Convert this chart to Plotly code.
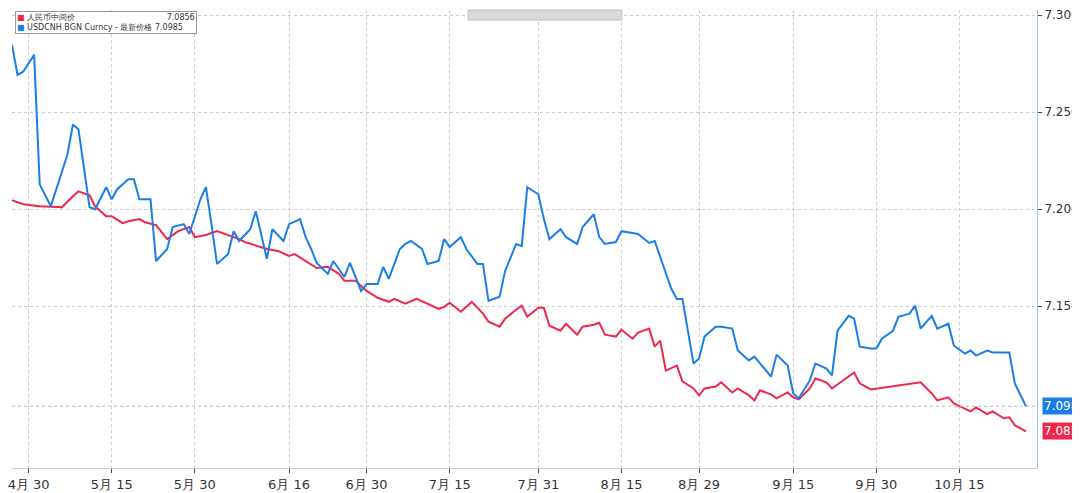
import datetime as dt
import plotly.graph_objects as go

START = dt.date(2025, 4, 27)

blue_days = [0, 1, 2, 4, 5, 7, 8, 10, 11, 12, 14, 15, 17, 18, 19, 21, 22, 23, 25, 26, 28, 29, 31, 32, 34, 35, 36, 37,
             39, 40, 41, 43, 44, 46, 47, 49, 50, 52, 53, 54, 55, 57, 58, 60, 61, 63, 64, 66, 67, 68, 70, 71, 72, 74,
             75, 77, 78, 79, 81, 82, 84, 85, 86, 88, 89, 91, 92, 93, 95, 96, 97, 99, 100, 102, 103, 105, 106, 107,
             109, 110, 112, 113, 115, 116, 117, 119, 120, 121, 123, 124, 125, 127, 128, 130, 131, 133, 134, 135,
             137, 138, 140, 141, 142, 144, 145, 147, 148, 149, 151, 152, 153, 155, 156, 157, 159, 160, 162, 163,
             164, 166, 167, 169, 170, 172, 173, 174, 176, 177, 179, 180, 181, 183]
blue_vals = [7.2846, 7.2692, 7.2708, 7.2795, 7.2128, 7.2015, 7.2103, 7.2282, 7.2436, 7.2410, 7.2010, 7.2000,
             7.2113, 7.2051, 7.2103, 7.2154, 7.2154, 7.2051, 7.2051, 7.1733, 7.1795, 7.1908, 7.1923, 7.1872,
             7.2051, 7.2113, 7.1923, 7.1718, 7.1769, 7.1887, 7.1836, 7.1897, 7.1990, 7.1744, 7.1897, 7.1836,
             7.1923, 7.1949, 7.1856, 7.1795, 7.1723, 7.1667, 7.1733, 7.1651, 7.1723, 7.1579, 7.1615, 7.1615,
             7.1703, 7.1641, 7.1795, 7.1821, 7.1836, 7.1795, 7.1718, 7.1733, 7.1846, 7.1805, 7.1856, 7.1795,
             7.1718, 7.1718, 7.1528, 7.1549, 7.1682, 7.1821, 7.1810, 7.2113, 7.2077, 7.1949, 7.1846, 7.1897,
             7.1856, 7.1821, 7.1908, 7.1974, 7.1856, 7.1821, 7.1831, 7.1887, 7.1877, 7.1872, 7.1826, 7.1836,
             7.1754, 7.1590, 7.1538, 7.1538, 7.1205, 7.1231, 7.1344, 7.1395, 7.1395, 7.1385, 7.1272, 7.1221,
             7.1241, 7.1205, 7.1138, 7.1251, 7.1195, 7.1051, 7.1026, 7.1118, 7.1205, 7.1179, 7.1144, 7.1374,
             7.1451, 7.1436, 7.1292, 7.1282, 7.1282, 7.1333, 7.1374, 7.1446, 7.1462, 7.1503, 7.1385, 7.1451,
             7.1385, 7.1410, 7.1297, 7.1256, 7.1272, 7.1246, 7.1272, 7.1262, 7.1262, 7.1262, 7.1103, 7.0985]

red_days = [0, 2, 5, 9, 11, 12, 14, 15, 17, 18, 20, 21, 23, 24, 26, 28, 30, 32, 33, 35, 37, 39, 41, 42, 44, 46,
            48, 50, 51, 53, 55, 57, 59, 60, 62, 64, 66, 68, 69, 71, 73, 75, 77, 78, 79, 81, 82, 83, 85, 86, 88,
            89, 91, 92, 93, 95, 96, 97, 99, 100, 102, 103, 105, 106, 107, 109, 110, 112, 113, 115, 116, 117, 118,
            120, 121, 123, 124, 125, 127, 128, 130, 131, 133, 134, 135, 137, 138, 140, 141, 142, 144, 145, 147,
            148, 149, 151, 152, 153, 155, 164, 166, 167, 169, 170, 172, 173, 174, 176, 177, 179, 180, 181, 183]
red_vals = [7.2046, 7.2026, 7.2015, 7.2010, 7.2067, 7.2092, 7.2072, 7.2015, 7.1964, 7.1964, 7.1928, 7.1938,
            7.1949, 7.1933, 7.1918, 7.1846, 7.1887, 7.1908, 7.1856, 7.1867, 7.1887, 7.1867, 7.1846, 7.1831,
            7.1815, 7.1795, 7.1785, 7.1759, 7.1769, 7.1733, 7.1697, 7.1703, 7.1667, 7.1631, 7.1631, 7.1579,
            7.1544, 7.1523, 7.1538, 7.1513, 7.1538, 7.1513, 7.1487, 7.1497, 7.1518, 7.1472, 7.1497, 7.1523,
            7.1462, 7.1421, 7.1395, 7.1436, 7.1482, 7.1503, 7.1446, 7.1492, 7.1492, 7.1400, 7.1374, 7.1410,
            7.1354, 7.1395, 7.1405, 7.1415, 7.1354, 7.1344, 7.1379, 7.1333, 7.1364, 7.1385, 7.1292, 7.1323,
            7.1169, 7.1195, 7.1113, 7.1077, 7.1041, 7.1077, 7.1087, 7.1108, 7.1056, 7.1077, 7.1041, 7.1015,
            7.1067, 7.1046, 7.1026, 7.1056, 7.1031, 7.1021, 7.1077, 7.1128, 7.1108, 7.1077, 7.1097, 7.1138,
            7.1159, 7.1103, 7.1072, 7.1108, 7.1051, 7.1015, 7.1031, 7.1000, 7.0974, 7.0959, 7.0979, 7.0944,
            7.0959, 7.0923, 7.0928, 7.0887, 7.0856]

tick_dates = ["2025-04-30", "2025-05-15", "2025-05-30", "2025-06-16", "2025-06-30", "2025-07-15",
              "2025-07-31", "2025-08-15", "2025-08-29", "2025-09-15", "2025-09-30", "2025-10-15"]
tick_text = ["4月 30", "5月 15", "5月 30", "6月 16", "6月 30", "7月 15",
             "7月 31", "8月 15", "8月 29", "9月 15", "9月 30", "10月 15"]
y_ticks = [7.30, 7.25, 7.20, 7.15]
y_text = ["7.3000", "7.2500", "7.2000", "7.1500"]

RED = "#f0274d"
BLUE = "#1a7ee8"

bx = [START + dt.timedelta(days=d) for d in blue_days]
rx = [START + dt.timedelta(days=d) for d in red_days]

fig = go.Figure()
fig.add_trace(go.Scatter(x=rx, y=red_vals, mode="lines", line=dict(color=RED, width=2), name="人民币中间价"))
fig.add_trace(go.Scatter(x=bx, y=blue_vals, mode="lines", line=dict(color=BLUE, width=2),
                         name="USDCNH BGN Curncy - 最新价格"))

fig.add_hline(y=blue_vals[-1], line=dict(color="#bbbbbb", width=1, dash="dot"))

for val, col in [(blue_vals[-1], BLUE), (red_vals[-1], RED)]:
    fig.add_annotation(x=1.0, xref="paper", y=val, yref="y", text=f"{val:.4f}", showarrow=False,
                       xanchor="left", xshift=5, bgcolor=col, font=dict(color="white", size=12, family="DejaVu Sans"),
                       borderpad=1)

# legend box
fig.add_annotation(x=0.003, y=0.997, xref="paper", yref="paper", xanchor="left", yanchor="top", showarrow=False,
                   align="left", bgcolor="white", bordercolor="#999999", borderwidth=1, borderpad=1,
                   font=dict(size=8, family="DejaVu Sans", color="#333333"),
                   text=f"<span style='color:{RED}'>■</span> 人民币中间价{'&nbsp;' * 36}{red_vals[-1]:.4f}<br>"
                        f"<span style='color:{BLUE}'>■</span> USDCNH BGN Curncy - 最新价格 {blue_vals[-1]:.4f}")
fig.add_annotation(x="2025-07-31", y=-0.045, xref="x", yref="paper", yanchor="top", text="2025",
                   showarrow=False, font=dict(size=13, color="#333333"))
fig.add_shape(type="rect", xref="paper", yref="paper", x0=0.445, x1=0.595, y0=0.978, y1=1.0,
              fillcolor="#d9d9d9", line=dict(color="#c0c0c0", width=1))

fig.update_layout(
    width=1080, height=493, showlegend=False,
    paper_bgcolor="white", plot_bgcolor="white",
    margin=dict(l=0, r=51, t=0, b=33),
    font=dict(family="DejaVu Sans", color="#333333", size=13),
    xaxis=dict(range=[START, START + dt.timedelta(days=185.4)], tickvals=tick_dates, ticktext=tick_text,
               ticklabeloverflow="allow",
               showgrid=True, gridcolor="#cccccc", griddash="dot", ticks="outside", ticklen=4,
               showline=True, linecolor="#cccccc", zeroline=False),
    yaxis=dict(side="right", range=[7.0667, 7.3026], tickvals=y_ticks, ticktext=y_text,
               ticklabeloverflow="allow", tickfont=dict(size=12),
               showgrid=True, gridcolor="#cccccc", griddash="dot", ticks="outside", ticklen=4,
               showline=True, linecolor="#9ac4ee", zeroline=False),
)

fig.write_html("out.html")
